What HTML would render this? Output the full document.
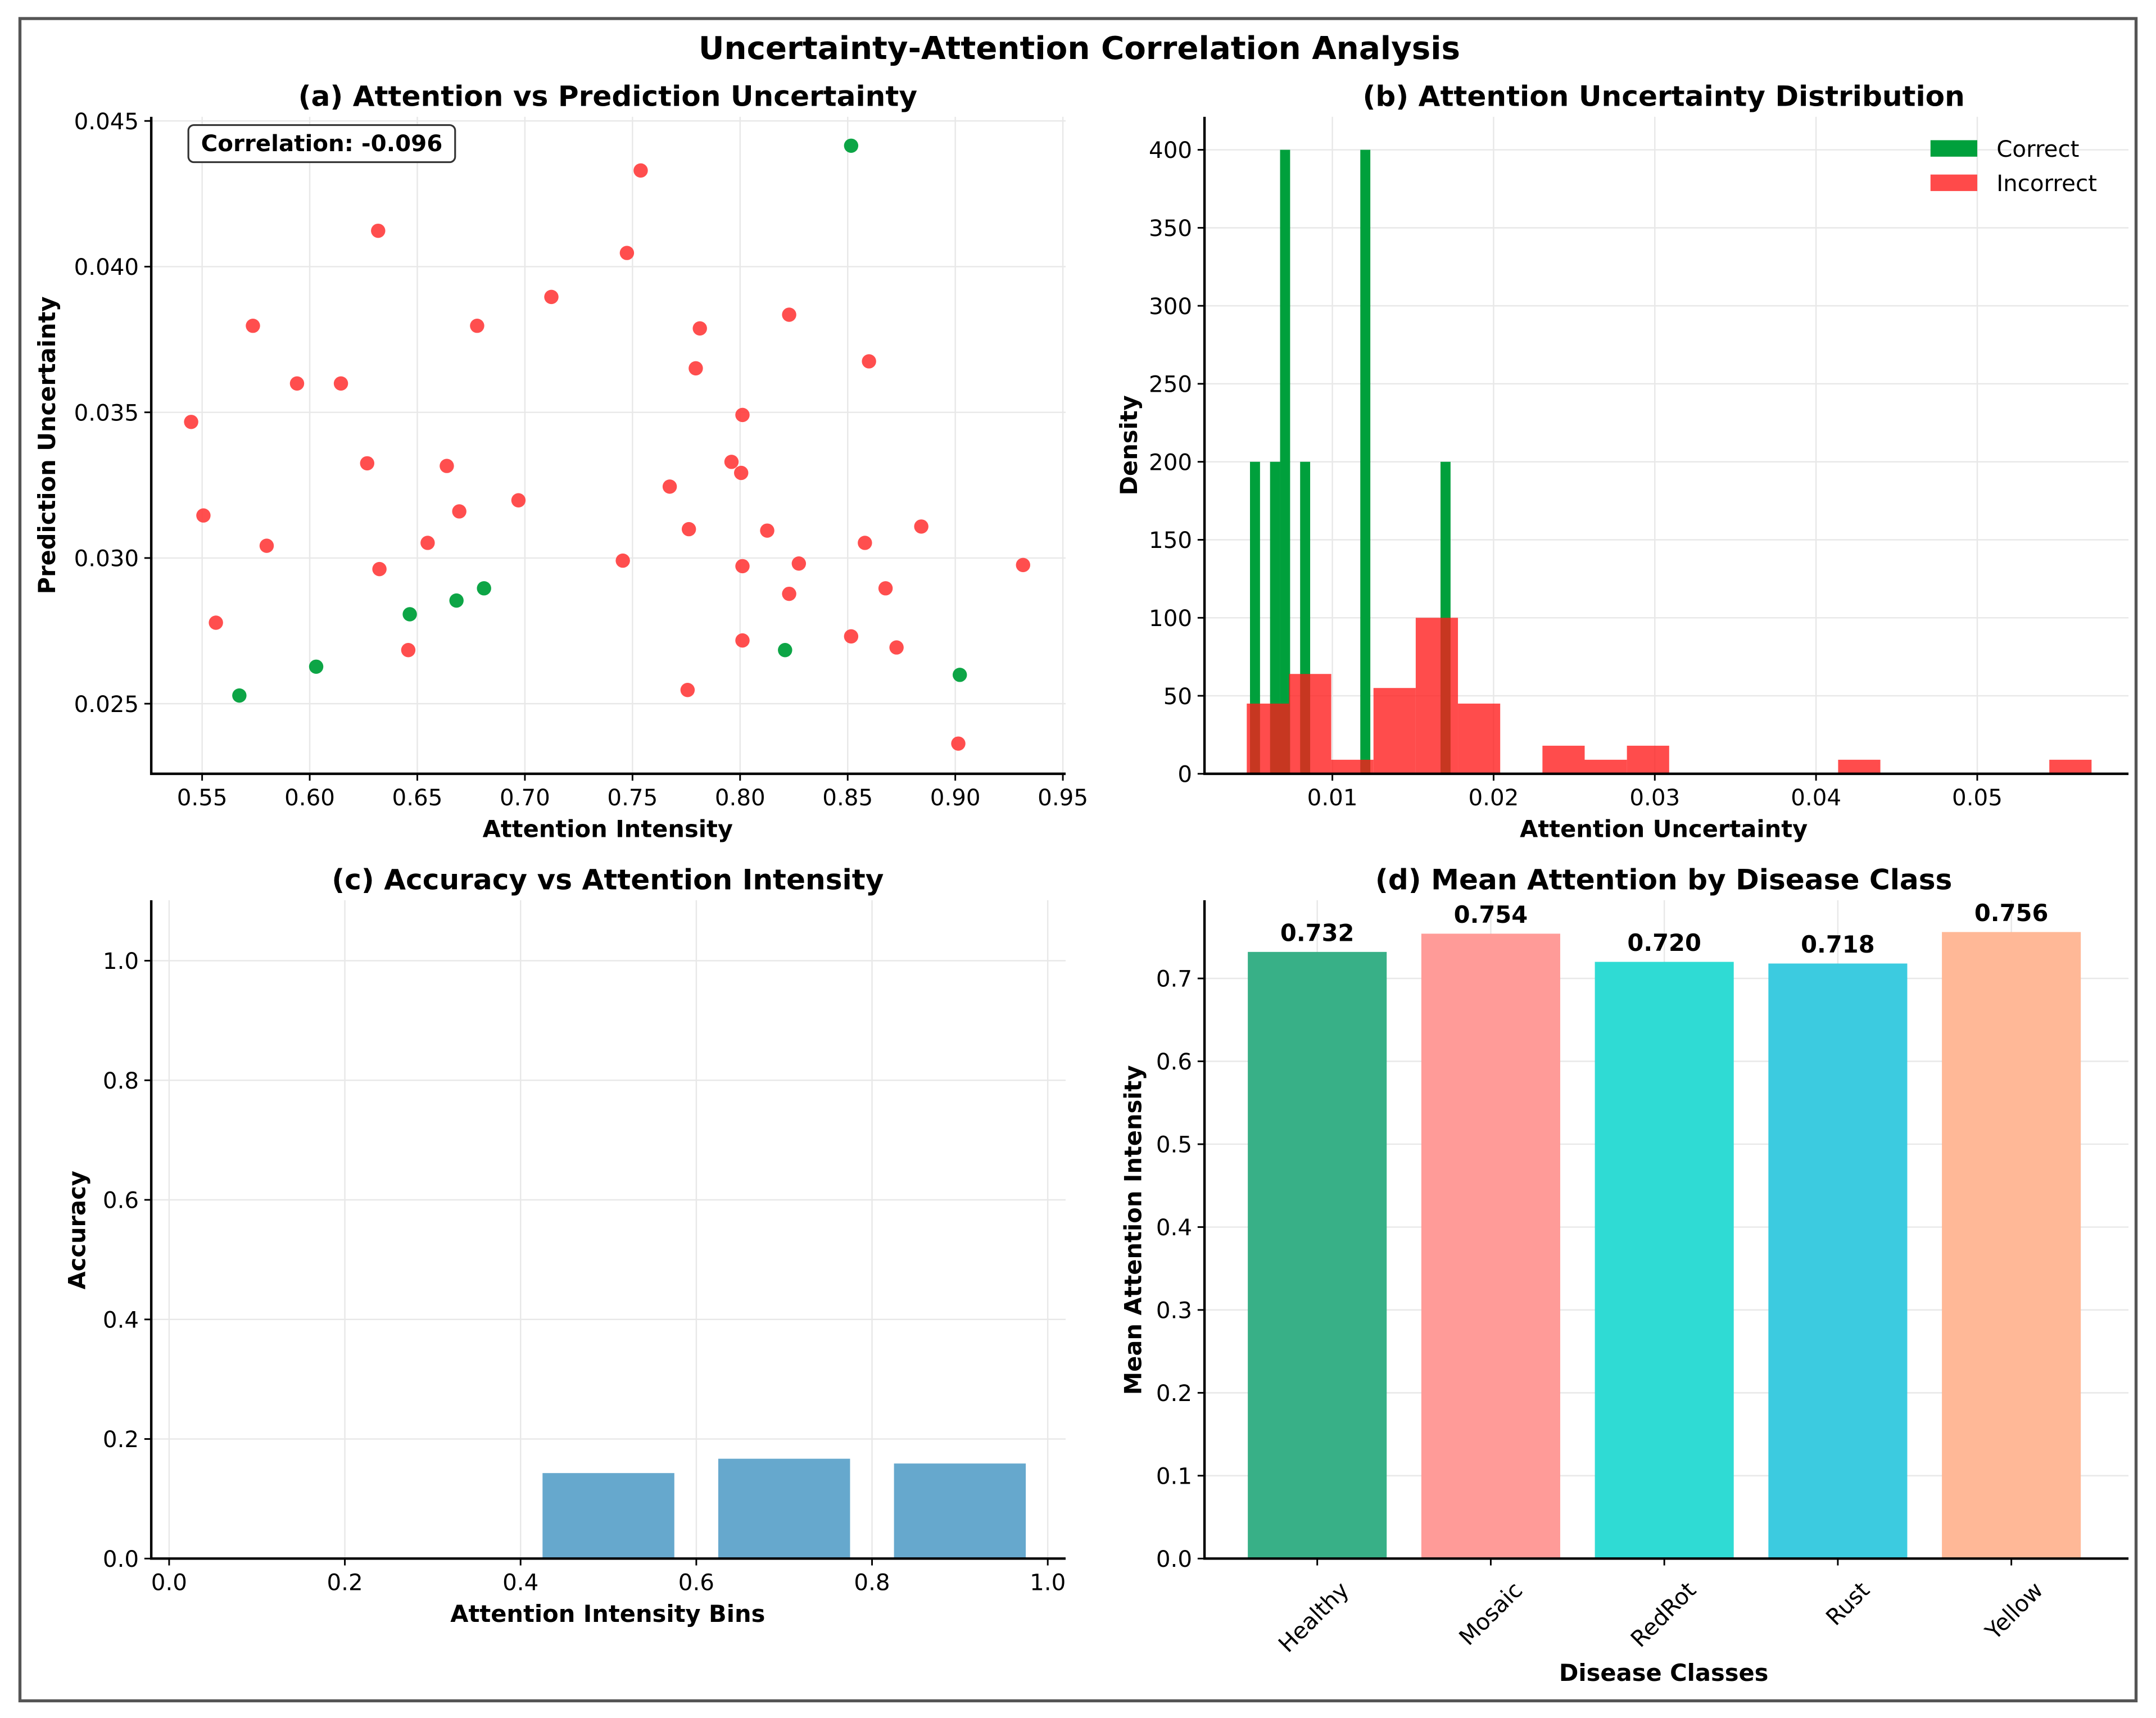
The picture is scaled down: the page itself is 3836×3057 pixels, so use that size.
<!DOCTYPE html>
<html><head><meta charset="utf-8"><style>
html,body{margin:0;padding:0;background:#fff;}
svg{display:block;font-family:"DejaVu Sans","Liberation Sans",sans-serif;}
</style></head><body>
<svg id="fig" width="3836" height="3057" viewBox="0 0 1568 1250" preserveAspectRatio="none" xmlns="http://www.w3.org/2000/svg">
<rect x="0" y="0" width="1568" height="1250" fill="#fff"/>
<rect x="14.5" y="13.5" width="1539" height="1224" fill="none" stroke="#555" stroke-width="2.2"/>
<text x="785" y="43" font-size="23" font-weight="bold" text-anchor="middle">Uncertainty-Attention Correlation Analysis</text>
<text x="442" y="77" font-size="20.5" font-weight="bold" text-anchor="middle">(a) Attention vs Prediction Uncertainty</text>
<text x="1210" y="77" font-size="20.5" font-weight="bold" text-anchor="middle">(b) Attention Uncertainty Distribution</text>
<text x="442" y="647" font-size="20.5" font-weight="bold" text-anchor="middle">(c) Accuracy vs Attention Intensity</text>
<text x="1210" y="647" font-size="20.5" font-weight="bold" text-anchor="middle">(d) Mean Attention by Disease Class</text>
<text x="442" y="609" font-size="17" font-weight="bold" text-anchor="middle">Attention Intensity</text>
<text x="40" y="324" font-size="17" font-weight="bold" text-anchor="middle" transform="rotate(-90 40 324)">Prediction Uncertainty</text>
<text x="1210" y="609" font-size="17" font-weight="bold" text-anchor="middle">Attention Uncertainty</text>
<text x="827" y="324" font-size="17" font-weight="bold" text-anchor="middle" transform="rotate(-90 827 324)">Density</text>
<text x="442" y="1180" font-size="17" font-weight="bold" text-anchor="middle">Attention Intensity Bins</text>
<text x="62" y="895" font-size="17" font-weight="bold" text-anchor="middle" transform="rotate(-90 62 895)">Accuracy</text>
<text x="1210" y="1223" font-size="17" font-weight="bold" text-anchor="middle">Disease Classes</text>
<text x="830" y="895" font-size="17" font-weight="bold" text-anchor="middle" transform="rotate(-90 830 895)">Mean Attention Intensity</text>
<g id="layer"></g>
</svg>
<script>
// Panel (a) data
const redX = [0.5449,0.5506,0.5564,0.5736,0.5800,0.5941,0.6145,0.6267,0.6318,0.6324,0.6458,0.6548,0.6637,0.6695,0.6778,0.6970,0.7123,0.7455,0.7474,0.7538,0.7673,0.7756,0.7762,0.7794,0.7813,0.7960,0.8005,0.8011,0.8011,0.8011,0.8126,0.8228,0.8228,0.8273,0.8516,0.8580,0.8599,0.8676,0.8727,0.8842,0.9014,0.9315];
const redY = [0.03467,0.03146,0.02778,0.03797,0.03042,0.03599,0.03599,0.03325,0.04123,0.02962,0.02684,0.03052,0.03316,0.03160,0.03797,0.03198,0.03896,0.02991,0.04047,0.04330,0.03245,0.02547,0.03099,0.03651,0.03788,0.03330,0.03292,0.03491,0.02972,0.02717,0.03094,0.03835,0.02877,0.02981,0.02731,0.03052,0.03675,0.02896,0.02693,0.03108,0.02363,0.02976];
const greenX = [0.5673,0.6030,0.6465,0.6682,0.6810,0.8209,0.8516,0.9021];
const greenY = [0.02528,0.02627,0.02807,0.02854,0.02896,0.02684,0.04415,0.02599];
const aXTicks = [0.55,0.60,0.65,0.70,0.75,0.80,0.85,0.90,0.95];
const aYTicks = [0.025,0.030,0.035,0.040,0.045];
// Panel (b) data
const correctStart = 0.00489;
const correctWidth = 0.000622;
const correctCounts = [200,0,200,400,0,200,0,0,0,0,0,400,0,0,0,0,0,0,0,200];
const incorrectStart = 0.00469;
const incorrectWidth = 0.00262;
const incorrectCounts = [45,64,9,55,100,45,0,18,9,18,0,0,0,0,9,0,0,0,0,9];
const bXTicks = [0.01,0.02,0.03,0.04,0.05];
const bYTicks = [0,50,100,150,200,250,300,350,400];
// Panel (c) data
const binCenters = [0.1,0.3,0.5,0.7,0.9];
const binAccuracy = [0,0,0.143,0.167,0.159];
const cXTicks = [0.0,0.2,0.4,0.6,0.8,1.0];
const cYTicks = [0.0,0.2,0.4,0.6,0.8,1.0];
// Panel (d) data
const classes = ["Healthy","Mosaic","RedRot","Rust","Yellow"];
const classMeans = [0.732,0.754,0.720,0.718,0.756];
const dYTicks = [0.0,0.1,0.2,0.3,0.4,0.5,0.6,0.7];
const classColors = ["#38b087","#ff9b98","#2fdbd4","#3ccbe0","#ffb897"];

const NS = "http://www.w3.org/2000/svg";
const layer = document.getElementById('layer');
function mk(tag, attrs){const e=document.createElementNS(NS,tag);for(const k in attrs)e.setAttribute(k,attrs[k]);layer.appendChild(e);return e;}

const A={x0:110,x1:775,y0:85,y1:563};
const ax=v=>147+(v-0.55)*1565, ay=v=>88+(0.045-v)*21200;
const B={x0:876,x1:1548,y0:85,y1:563};
const bx=v=>851.75+v*11725, by=v=>563-v*1.135;
const C={x0:110,x1:775,y0:655,y1:1134};
const cx=v=>123+v*639, cy=v=>1134-v*435;
const D={x0:876,x1:1548,y0:655,y1:1134};
const dx=i=>958+i*126.2, dy=v=>1134-v*603;

function grid(P,xs,ys,fx,fy,name,fmt,fmtY){
  xs.forEach(v=>{const x=fx(v);
    let g=mk('line',{x1:x,x2:x,y1:P.y0,y2:P.y1,stroke:'#e8e8e8','stroke-width':1});
    
    
    let t=mk('line',{x1:x,x2:x,y1:P.y1,y2:P.y1+5,stroke:'#000','stroke-width':1.2});
    
    
    let l=mk('text',{x:x,y:P.y1+23,'font-size':16.5,'text-anchor':'middle'});l.textContent=fmt(v);
    
    
  });
  ys.forEach(v=>{const y=fy(v);
    let g=mk('line',{x1:P.x0,x2:P.x1,y1:y,y2:y,stroke:'#e8e8e8','stroke-width':1});
    
    
    let t=mk('line',{x1:P.x0-5,x2:P.x0,y1:y,y2:y,stroke:'#000','stroke-width':1.2});
    
    
    let l=mk('text',{x:P.x0-9,y:y+6,'font-size':16.5,'text-anchor':'end'});l.textContent=fmtY(v);
    
    
  });
}
function spines(P,name){
  let s=mk('path',{d:`M${P.x0} ${P.y0} V${P.y1} H${P.x1}`,fill:'none',stroke:'#000','stroke-width':1.8});
  
  
}

// Panel a
grid(A,aXTicks,aYTicks,ax,ay,'panel-a',v=>v.toFixed(2),v=>v.toFixed(3));
redX.forEach((v,i)=>{let c=mk('circle',{cx:ax(v),cy:ay(redY[i]),r:5.2,fill:'#ff3b3b','fill-opacity':0.9});
  
  });
greenX.forEach((v,i)=>{let c=mk('circle',{cx:ax(v),cy:ay(greenY[i]),r:5.2,fill:'#00a03c','fill-opacity':0.95});
  
  });
spines(A,'panel-a');
let box=mk('rect',{x:137,y:91,width:194,height:27,rx:4,fill:'#fff',stroke:'#333','stroke-width':1.3});


let ct=mk('text',{x:234,y:110,'font-size':16.5,'font-weight':'bold','text-anchor':'middle'});ct.textContent='Correlation: -0.096';



// Panel b
grid(B,bXTicks,bYTicks,bx,by,'panel-b',v=>v.toFixed(2),v=>String(v));
correctCounts.forEach((h,i)=>{if(!h)return;const x0=bx(correctStart+i*correctWidth),x1=bx(correctStart+(i+1)*correctWidth);
  let r=mk('rect',{x:x0,y:by(h),width:x1-x0,height:by(0)-by(h),fill:'#00a03c'});
  
  });
incorrectCounts.forEach((h,i)=>{if(!h)return;const x0=bx(incorrectStart+i*incorrectWidth),x1=bx(incorrectStart+(i+1)*incorrectWidth);
  let r=mk('rect',{x:x0,y:by(h),width:x1-x0,height:by(0)-by(h),fill:'#ff1a1a','fill-opacity':0.78});
  
  });
spines(B,'panel-b');
let lg1=mk('rect',{x:1404,y:102,width:34,height:12,fill:'#00a03c'});


let lt1=mk('text',{x:1452,y:114,'font-size':16.5});lt1.textContent='Correct';


let lg2=mk('rect',{x:1404,y:127,width:34,height:12,fill:'#ff4a4a'});


let lt2=mk('text',{x:1452,y:139,'font-size':16.5});lt2.textContent='Incorrect';



// Panel c
grid(C,cXTicks,cYTicks,cx,cy,'panel-c',v=>v.toFixed(1),v=>v.toFixed(1));
binCenters.forEach((c,i)=>{const h=binAccuracy[i];if(!h)return;
  let r=mk('rect',{x:cx(c-0.075),y:cy(h),width:cx(c+0.075)-cx(c-0.075),height:cy(0)-cy(h),fill:'#66a8cd'});
  
  });
spines(C,'panel-c');

// Panel d
grid(D,[],dYTicks,dx,dy,'panel-d',v=>'',v=>v.toFixed(1));
classes.forEach((n,i)=>{const x=dx(i);
  let g=mk('line',{x1:x,x2:x,y1:D.y0,y2:D.y1,stroke:'#e8e8e8','stroke-width':1});
  
  });
classes.forEach((n,i)=>{const x=dx(i),v=classMeans[i];
  let r=mk('rect',{x:x-50.5,y:dy(v),width:101,height:dy(0)-dy(v),fill:classColors[i]});
  
  
  let t=mk('text',{x:x,y:dy(v)-8,'font-size':17,'font-weight':'bold','text-anchor':'middle'});t.textContent=v.toFixed(3);
  
  
  let tk=mk('line',{x1:x,x2:x,y1:D.y1,y2:D.y1+5,stroke:'#000','stroke-width':1.2});
  
  
  let lx=x+24, ly=D.y1+24;
  let l=mk('text',{x:lx,y:ly,'font-size':16.5,'text-anchor':'end',transform:`rotate(-45 ${lx} ${ly})`});l.textContent=n;
  
  
});
spines(D,'panel-d');
</script>
</body></html>
